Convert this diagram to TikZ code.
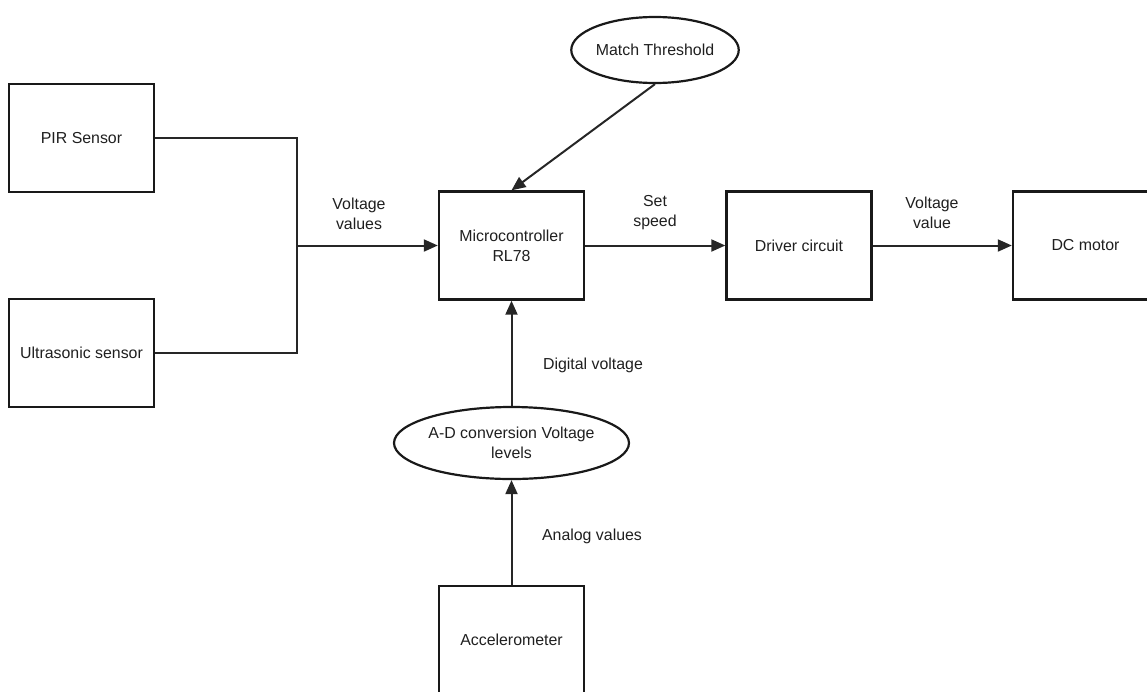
\documentclass[tikz,border=0pt]{standalone}
\usepackage{fontspec}
\setmainfont{Liberation Sans}
\usetikzlibrary{arrows.meta,shapes.geometric}
\begin{document}
\begin{tikzpicture}[x=1pt,y=-1pt,
  every node/.style={font=\fontsize{15.9}{20}\selectfont, text=black!88, align=center},
  blk/.style={draw=black!90, line width=2.4pt, minimum width=145pt, minimum height=108pt, inner sep=0pt},
  ell/.style={draw=black!90, ellipse, line width=2.2pt, inner sep=0pt},
  wire/.style={draw=black!85, line width=2pt},
  arr/.style={draw=black!85, line width=2pt, -{Triangle[length=14pt,width=12pt]}},
  lbl/.style={inner sep=0pt}
]
\useasboundingbox (0,0) rectangle (1147,691);
\clip (0,0) rectangle (1147,691);
\node[blk] (pir) at (81.5,138) {PIR Sensor};
\node[blk] (us) at (81.5,353) {Ultrasonic sensor};
\node[blk] (mc) at (511.5,245.5) {Microcontroller\\RL78};
\node[blk] (dr) at (799,245.5) {Driver circuit};
\node[blk] (dc) at (1085.5,245.5) {DC motor};
\node[blk] (acc) at (511.5,640) {Accelerometer};
\node[ell, minimum width=144pt, minimum height=66pt] (mt) at (655,50) {Match Threshold};
\node[ell, minimum width=216pt, minimum height=72pt] (ad) at (511.5,443) {A-D conversion Voltage\\levels};
\coordinate (j) at (297,245.5);
\draw[wire] (pir.east) -| (j) |- (us.east);
\draw[arr] (j) -- (mc.west);
\draw[arr] (mt.south) -- (mc.north);
\draw[arr] (mc.east) -- (dr.west);
\draw[arr] (dr.east) -- (dc.west);
\draw[arr] (ad.north) -- (mc.south);
\draw[arr] (acc.north) -- (ad.south);
\node[lbl] (l1) at (359,214) {Voltage\\values};
\node[lbl] (l2) at (655,213) {Set\\speed};
\node[lbl] (l3) at (932,213) {Voltage\\value};
\node[lbl] (l4) at (593,365) {Digital voltage};
\node[lbl] (l5) at (592,536) {Analog values};
\end{tikzpicture}
\end{document}
